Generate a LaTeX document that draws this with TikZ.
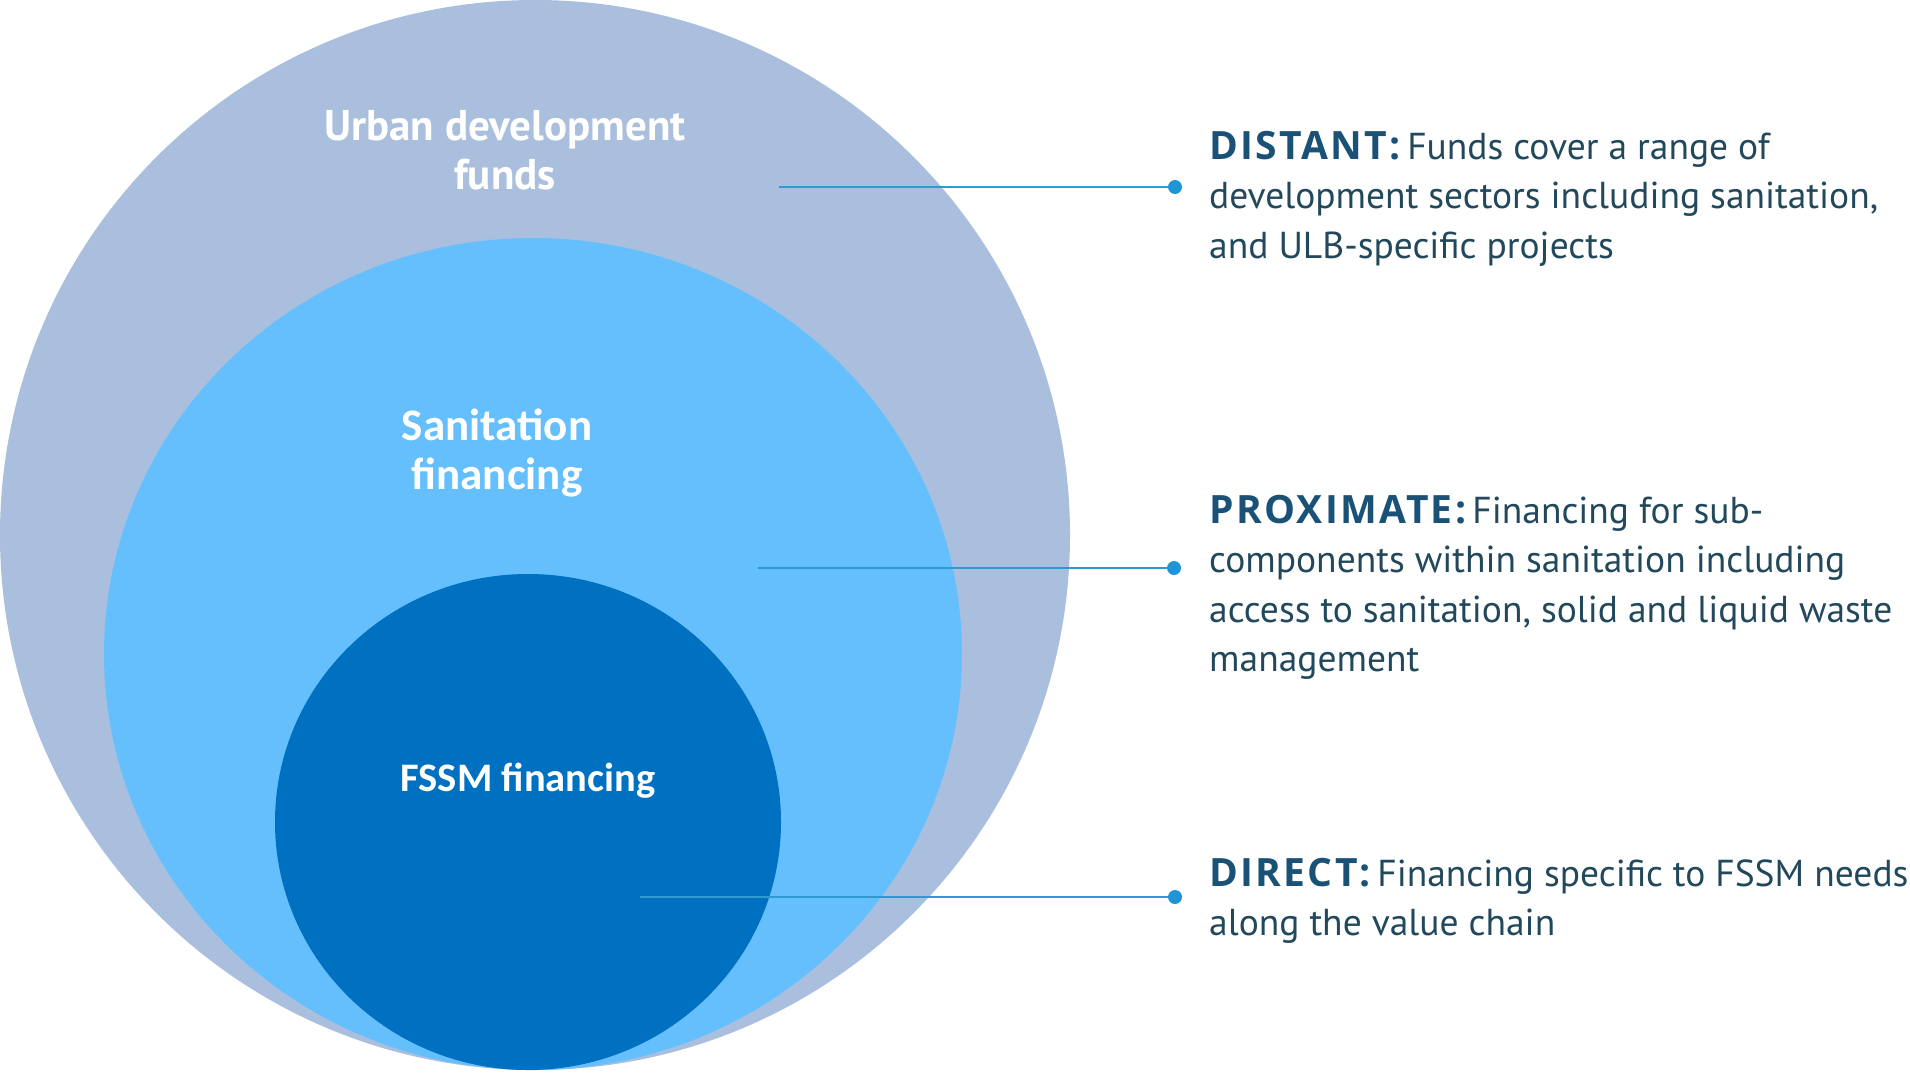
\documentclass[tikz,border=0pt]{standalone}
\usepackage{fontspec}
\newfontfamily\ptsans{PT Sans}
\newfontfamily\carlito{Carlito}
\newfontfamily\headfont{Open Sans}[LetterSpace=6]
\definecolor{outerc}{HTML}{AABFDD}
\definecolor{midc}{HTML}{66BFFD}
\definecolor{innerc}{HTML}{0070C0}
\definecolor{linec}{HTML}{2E9AD0}
\definecolor{dotc}{HTML}{1F95D8}
\definecolor{headc}{HTML}{1A5277}
\definecolor{bodyc}{HTML}{22485C}
\tikzset{
  conn/.style={draw=linec, line width=2.4pt},
  enddot/.style={fill=dotc},
  ringlabel/.style={text=white, align=center, inner sep=0pt},
  desc/.style={text=bodyc, align=left, anchor=north west, inner sep=0pt,
    font=\ptsans\fontsize{37.5}{49.3}\selectfont},
}
\newcommand{\hd}[1]{{\headfont\fontsize{39}{49.3}\selectfont\color{headc}\bfseries #1}}
\begin{document}
\begin{tikzpicture}[x=1pt,y=-1pt]
\useasboundingbox (0,0) rectangle (1910,1073);
\clip (0,0) rectangle (1910,1073);
\fill[white] (0,0) rectangle (1910,1073);
% rings
\coordinate (co) at (535,535);
\coordinate (cm) at (533,654);
\coordinate (ci) at (528,822);
\fill[outerc] (co) circle[radius=535pt];
\fill[midc] (cm) ellipse[x radius=429pt, y radius=416pt];
\fill[innerc] (ci) ellipse[x radius=253pt, y radius=248pt];
% ring labels
\node[ringlabel, font=\ptsans\bfseries\fontsize{43}{49}\selectfont] (lu) at (505,150) {Urban development\\funds};
\node[ringlabel, font=\carlito\bfseries\fontsize{45}{49}\selectfont] (ls) at (497,453) {Sanitation\\financing};
\node[ringlabel, font=\carlito\bfseries\fontsize{40.5}{49}\selectfont] (lf) at (528,781) {FSSM financing};
% connectors
\coordinate (s1) at (779,187);
\coordinate (d1) at (1175,187);
\coordinate (s2) at (758,568);
\coordinate (d2) at (1174,568);
\coordinate (s3) at (640,897);
\coordinate (d3) at (1175,897);
\draw[conn] (s1) -- (d1);
\draw[conn] (s2) -- (d2);
\draw[conn] (s3) -- (d3);
\fill[enddot] (d1) circle[radius=7pt];
\fill[enddot] (d2) circle[radius=7pt];
\fill[enddot] (d3) circle[radius=7pt];
% descriptions
\node[desc] (t1) at (1209,131) {\hd{DISTANT:}\,Funds cover a range of\\development sectors including sanitation,\\and ULB-specific projects};
\node[desc] (t2) at (1209,495) {\hd{PROXIMATE:}\,Financing for sub-\\components within sanitation including\\access to sanitation, solid and liquid waste\\management};
\node[desc] (t3) at (1209,858) {\hd{DIRECT:}\,Financing specific to FSSM needs\\along the value chain};
\end{tikzpicture}
\end{document}
